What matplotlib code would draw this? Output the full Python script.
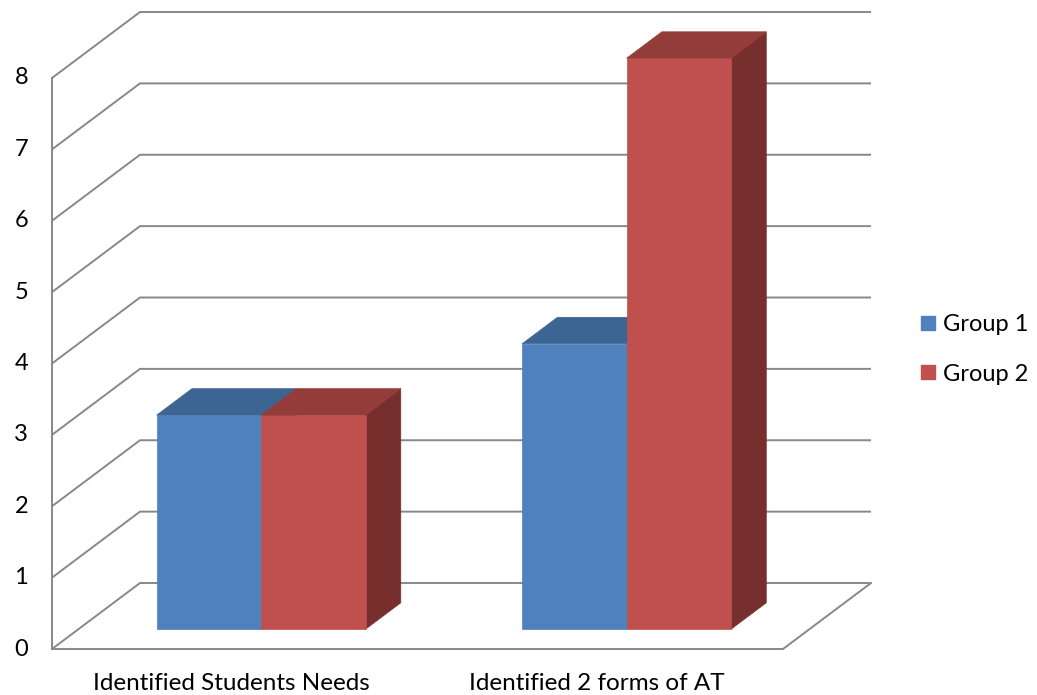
import matplotlib.pyplot as plt
from matplotlib.patches import Polygon
from matplotlib.lines import Line2D

categories = ['Identified Students Needs', 'Identified 2 forms of AT']
series = ['Group 1', 'Group 2']
group1 = [3, 4]
group2 = [3, 8]
yticks = [0, 1, 2, 3, 4, 5, 6, 7, 8]

front_colors = ['#4F81BD', '#C0504D']
top_colors = ['#3C6593', '#943C3A']
side_colors = ['#3A5F8A', '#772F2D']
grid_color = '#888888'

plt.rcParams['font.family'] = ['Lato', 'DejaVu Sans']

# oblique projection: depth shifts right and up
px_x = 365.5      # pixels per category unit
px_y = 71.375     # pixels per value unit
DX = 88 / px_x    # full wall depth in x data units
DY = 66 / px_y    # full wall depth in y data units


def proj(x, y, d):
    return (x + d * DX, y + d * DY)


fig = plt.figure(figsize=(10.37, 6.95), dpi=100)
ax = fig.add_axes([0, 0, 1, 1])
ax.set_xlim(-52 / px_x, (1037 - 52) / px_x)
ax.set_ylim(-46 / px_y, 649 / px_y)
ax.axis('off')

n_cat = len(categories)
ymax = yticks[-1]
lw = 1.4

# side wall and back wall gridlines
for v in yticks:
    p0 = proj(0, v, 0)
    p1 = proj(0, v, 1)
    p2 = proj(n_cat, v, 1)
    ax.plot([p0[0], p1[0], p2[0]], [p0[1], p1[1], p2[1]],
            color=grid_color, lw=lw, zorder=1, solid_capstyle='butt')
ax.plot([0, 0], [0, ymax], color=grid_color, lw=lw, zorder=1)

# floor outline
f0 = proj(0, 0, 0)
f1 = proj(n_cat, 0, 0)
f2 = proj(n_cat, 0, 1)
ax.plot([f0[0], f1[0], f2[0]], [f0[1], f1[1], f2[1]],
        color=grid_color, lw=lw, zorder=1)

# bars
gap = 1.5
w = 1 / (len(series) + gap)
d0, d1 = 0.3, 0.7
values = [group1, group2]
for i in range(n_cat):
    start = i + gap * w / 2
    for s in range(len(series)):
        v = values[s][i]
        x0 = start + s * w
        x1 = x0 + w
        front = [proj(x0, 0, d0), proj(x1, 0, d0), proj(x1, v, d0), proj(x0, v, d0)]
        top = [proj(x0, v, d0), proj(x1, v, d0), proj(x1, v, d1), proj(x0, v, d1)]
        side = [proj(x1, 0, d0), proj(x1, 0, d1), proj(x1, v, d1), proj(x1, v, d0)]
        z = 3 + i * 3 + s
        for pts, c in [(side, side_colors[s]), (front, front_colors[s]), (top, top_colors[s])]:
            ax.add_patch(Polygon(pts, closed=True, facecolor=c, edgecolor=c,
                                 lw=0.5, zorder=z))

# value axis labels
for v in yticks:
    ax.text(-24 / px_x, v, str(v), ha='right', va='center', fontsize=17, color='black')

# category labels
for i, cat in enumerate(categories):
    ax.text(i + 0.49, -35 / px_y, cat, ha='center', va='center', fontsize=17.5, color='black')

handles = [Line2D([], [], marker='s', ls='', markersize=10.5,
                  markerfacecolor=front_colors[s], markeredgecolor=front_colors[s])
           for s in range(len(series))]
fig.legend(handles, series, loc='center left', bbox_to_anchor=(0.863, 0.497),
           frameon=False, fontsize=17, handletextpad=0.15, labelspacing=1.2,
           handlelength=1.0)

fig.savefig('out.png', dpi=100)
